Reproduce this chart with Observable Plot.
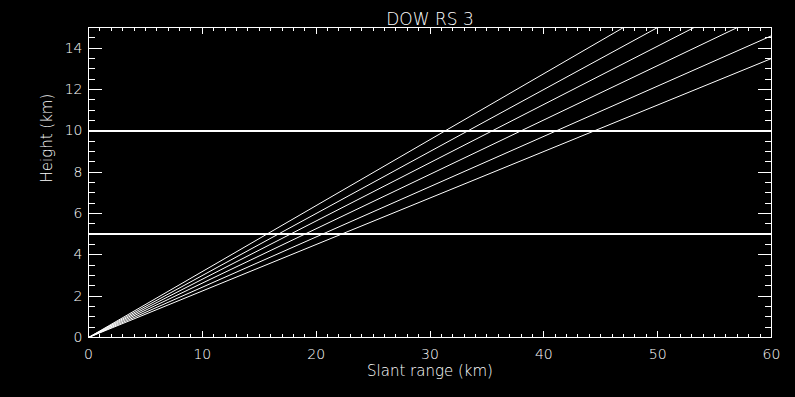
<!DOCTYPE html>
<html>
<head>
<meta charset="utf-8">
<script src="https://cdn.jsdelivr.net/npm/d3@7"></script>
<script src="https://cdn.jsdelivr.net/npm/@observablehq/plot@0.6"></script>
<style>
  html, body { margin: 0; padding: 0; background: #000; }
  svg { display: block; }
  svg text { font-weight: 200; }
</style>
</head>
<body>
<div id="chart"></div>
<script>
// Beam lines: each starts at the origin and ends at (endRange, endHeight) where it leaves the frame
const beamNames   = ["b1", "b2", "b3", "b4", "b5", "b6"];
const endRange    = [47.0, 50.0, 53.2, 57.0, 60.0, 60.0];
const endHeight   = [15.0, 15.0, 15.0, 15.0, 14.6, 13.5];
// Horizontal reference heights (km)
const refHeights  = [5, 10];
// Tick labels
const xTicks      = [0, 10, 20, 30, 40, 50, 60];
const yTicks      = [0, 2, 4, 6, 8, 10, 12, 14];
const xMinorStep  = 1;
const yMinorStep  = 0.5;
const titleText   = "DOW RS 3";
const xLabelText  = "Slant range (km)";
const yLabelText  = "Height (km)";

const beams = beamNames.flatMap((name, i) => [
  {name, range: 0, height: 0},
  {name, range: endRange[i], height: endHeight[i]}
]);
const xMinor = d3.range(0, 60 + 1e-9, xMinorStep);
const yMinor = d3.range(0, 15 + 1e-9, yMinorStep);

const font = "'DejaVu Sans', sans-serif";

const chart = Plot.plot({
  width: 795,
  height: 397,
  marginLeft: 88,
  marginRight: 24,
  marginTop: 27,
  marginBottom: 60,
  style: {background: "#000", color: "#fff", fontFamily: font, fontSize: "14px"},
  x: {domain: [0, 60]},
  y: {domain: [0, 15]},
  marks: [
    Plot.ruleY(refHeights, {stroke: "#fff", strokeWidth: 2, shapeRendering: "crispEdges"}),
    Plot.line(beams, {x: "range", y: "height", z: "name", stroke: "#fff", strokeWidth: 1, clip: true}),
    Plot.frame({stroke: "#fff", strokeWidth: 1, shapeRendering: "crispEdges"}),
    // minor ticks (inward)
    Plot.axisX({anchor: "bottom", ticks: xMinor, tickSize: -3, text: null, label: null, stroke: "#fff", shapeRendering: "crispEdges"}),
    Plot.axisX({anchor: "top", ticks: xMinor, tickSize: -3, text: null, label: null, stroke: "#fff", shapeRendering: "crispEdges"}),
    Plot.axisY({anchor: "left", ticks: yMinor, tickSize: -7, text: null, label: null, stroke: "#fff", shapeRendering: "crispEdges"}),
    Plot.axisY({anchor: "right", ticks: yMinor, tickSize: -7, text: null, label: null, stroke: "#fff", shapeRendering: "crispEdges"}),
    // major ticks (inward)
    Plot.axisX({anchor: "bottom", ticks: xTicks, tickSize: -6, text: null, label: null, stroke: "#fff", shapeRendering: "crispEdges"}),
    Plot.axisX({anchor: "top", ticks: xTicks, tickSize: -6, text: null, label: null, stroke: "#fff", shapeRendering: "crispEdges"}),
    Plot.axisY({anchor: "left", ticks: yTicks, tickSize: -14, text: null, label: null, stroke: "#fff", shapeRendering: "crispEdges"}),
    Plot.axisY({anchor: "right", ticks: yTicks, tickSize: -14, text: null, label: null, stroke: "#fff", shapeRendering: "crispEdges"}),
    // tick labels
    Plot.axisX({anchor: "bottom", ticks: xTicks, tickSize: 0, tickPadding: 12, label: null, fill: "#fff", fontSize: 14}),
    Plot.axisY({anchor: "left", ticks: yTicks, tickSize: 0, tickPadding: 6, label: null, fill: "#fff", fontSize: 14}),
    // title and axis labels
    Plot.text([titleText], {frameAnchor: "top", dy: -15, fill: "#fff", fontSize: 17, fontFamily: font}),
    Plot.text([xLabelText], {frameAnchor: "bottom", dy: 38, fill: "#fff", fontSize: 15, fontFamily: font}),
    Plot.text([yLabelText], {frameAnchor: "left", dx: -41, rotate: -90, fill: "#fff", fontSize: 15, fontFamily: font})
  ]
});
document.getElementById("chart").append(chart);
</script>
</body>
</html>
